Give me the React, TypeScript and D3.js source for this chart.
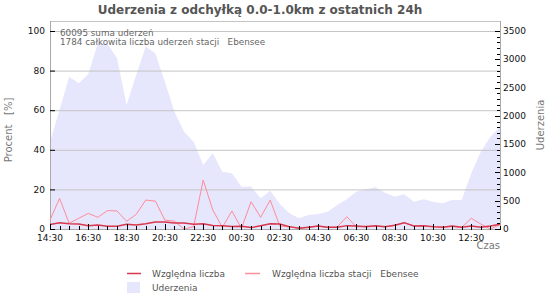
import React from "react";
import * as d3 from "d3";

const times = [
  "14:30","15:00","15:30","16:00","16:30","17:00","17:30","18:00","18:30","19:00","19:30","20:00",
  "20:30","21:00","21:30","22:00","22:30","23:00","23:30","00:00","00:30","01:00","01:30","02:00",
  "02:30","03:00","03:30","04:00","04:30","05:00","05:30","06:00","06:30","07:00","07:30","08:00",
  "08:30","09:00","09:30","10:00","10:30","11:00","11:30","12:00","12:30","13:00","13:30","14:00",
];
const tickLabels = ["14:30","16:30","18:30","20:30","22:30","00:30","02:30","04:30","06:30","08:30","10:30","12:30"];

const strikes = [
  1538, 2103, 2692, 2575, 2735, 3283, 3270, 3017, 2192, 2722, 3223, 3106,
  2604, 2074, 1720, 1543, 1131, 1338, 1013, 984, 748, 750, 542, 677,
  442, 277, 189, 247, 265, 306, 424, 525, 660, 701, 737, 642,
  571, 613, 483, 525, 483, 454, 512, 512, 984, 1366, 1631, 1808,
];
const relative = [
  2.3, 3.2, 2.6, 2.5, 1.7, 2.0, 1.4, 1.4, 2.4, 2.0, 2.6, 3.5,
  3.5, 3.0, 3.0, 2.4, 2.6, 1.8, 1.7, 1.3, 1.4, 0.7, 1.6, 2.6,
  2.5, 1.2, 0.4, 0.9, 1.5, 0.9, 0.9, 1.7, 1.5, 1.2, 1.7, 1.2,
  1.9, 3.2, 1.5, 1.7, 1.2, 0.9, 1.5, 0.9, 1.5, 0.9, 1.5, 2.4,
];
const relativeStation = [
  4.5, 15.5, 2.9, 5.4, 7.9, 5.9, 9.3, 9.1, 3.9, 7.4, 14.6, 14.1,
  4.5, 4.0, 0.0, 1.2, 24.7, 9.6, 0.8, 9.1, 0.3, 13.8, 5.9, 14.6,
  1.5, 1.0, 0.5, 0.8, 1.5, 0.8, 1.0, 6.2, 1.0, 1.5, 1.5, 1.0,
  1.8, 3.0, 1.5, 1.5, 1.0, 1.0, 1.2, 0.8, 5.4, 2.5, 0.0, 2.2,
];
const leftTicks = [0, 20, 40, 60, 80, 100];
const rightTicks = [0, 500, 1000, 1500, 2000, 2500, 3000, 3500];

export default function App() {
  const W = 550, H = 300;
  const L = 50, R = 500, T = 21, B = 229;
  const x = d3.scaleLinear().domain([0, times.length - 1]).range([L, R]);
  const yL = d3.scaleLinear().domain([0, 100]).range([B, 31]);
  const yR = d3.scaleLinear().domain([0, 3500]).range([B, 31]);

  const area = d3.area<number>().x((_, i) => x(i)).y0(B).y1((d) => yR(d))(strikes) || "";
  const lineRel = d3.line<number>().x((_, i) => x(i)).y((d) => yL(d))(relative) || "";
  const lineSt = d3.line<number>().x((_, i) => x(i)).y((d) => yL(d))(relativeStation) || "";

  const minorRight = d3.range(0, 3501, 100);
  const font = "DejaVu Sans, sans-serif";

  return (
    <svg width={W} height={H} style={{ position: "absolute", left: 0, top: 0, fontFamily: font }}>
      <rect x={0} y={0} width={W} height={H} fill="#fff" />
      <text x={260} y={14} textAnchor="middle" fontSize={12} fontWeight="bold" fill="#555">
        Uderzenia z odchyłką 0.0-1.0km z ostatnich 24h
      </text>
      <path d={area} fill="#e6e6fc" />
      {leftTicks.filter((t) => t > 0).map((t) => (
        <line key={"g" + t} x1={L} x2={R} y1={yL(t) + 0.5} y2={yL(t) + 0.5} stroke="#c4c4c4" strokeWidth={1} />
      ))}
      <line x1={L} x2={R} y1={T + 0.5} y2={T + 0.5} stroke="#c4c4c4" />
      <line x1={L + 0.5} x2={L + 0.5} y1={T} y2={B + 1} stroke="#aaa" />
      <line x1={R + 0.5} x2={R + 0.5} y1={T} y2={B + 1} stroke="#aaa" />
      <line x1={L} x2={R} y1={B + 0.5} y2={B + 0.5} stroke="#aaa" />
      <path d={lineSt} fill="none" stroke="#ff8c99" strokeWidth={1} />
      <path d={lineRel} fill="none" stroke="#d8374d" strokeWidth={1.5} />
      {leftTicks.map((t) => (
        <g key={"l" + t}>
          <line x1={L} x2={L + 5} y1={yL(t) + 0.5} y2={yL(t) + 0.5} stroke="#000" />
          <text x={45} y={yL(t)} dy="0.35em" textAnchor="end" fontSize={9} fill="#111">{t}</text>
        </g>
      ))}
      {minorRight.map((t) => (
        <line key={"m" + t} x1={t % 500 === 0 ? R - 5 : R - 3} x2={R} y1={Math.round(yR(t)) + 0.5} y2={Math.round(yR(t)) + 0.5} stroke="#000" />
      ))}
      {rightTicks.map((t) => (
        <text key={"r" + t} x={503} y={yR(t)} dy="0.35em" fontSize={9} fill="#111">{t}</text>
      ))}
      {times.map((t, i) => {
        const major = tickLabels.includes(t);
        return (
          <line key={"x" + i} x1={Math.round(x(i)) + 0.5} x2={Math.round(x(i)) + 0.5} y1={B - (major ? 5 : 3)} y2={B + 1} stroke="#000" />
        );
      })}
      {tickLabels.map((t) => (
        <text key={"xl" + t} x={x(times.indexOf(t))} y={241} textAnchor="middle" fontSize={9} fill="#111">{t}</text>
      ))}
      <text x={60} y={35.5} fontSize={8.8} fill="#666">60095 suma uderzeń</text>
      <text x={60} y={44.5} fontSize={8.8} fill="#666" style={{ whiteSpace: "pre" }}>1784 całkowita liczba uderzeń stacji   Ebensee</text>
      <text transform="translate(12,130) rotate(-90)" textAnchor="middle" fontSize={10} fill="#777" style={{ whiteSpace: "pre" }}>Procent   [%]</text>
      <text transform="translate(544,125) rotate(-90)" textAnchor="middle" fontSize={10} fill="#777">Uderzenia</text>
      <text x={500} y={249} textAnchor="end" fontSize={10} fill="#777">Czas</text>
      <line x1={127} x2={141} y1={273.5} y2={273.5} stroke="#d8374d" strokeWidth={1.5} />
      <text x={152} y={276.5} fontSize={9} fill="#555">Względna liczba</text>
      <line x1={245} x2={260} y1={273.5} y2={273.5} stroke="#ff8c99" strokeWidth={1.5} />
      <text x={272} y={276.5} fontSize={9} fill="#555" style={{ whiteSpace: "pre" }}>Względna liczba stacji   Ebensee</text>
      <rect x={127} y={282} width={13} height={11} fill="#e6e6fc" />
      <text x={152} y={291} fontSize={9} fill="#555">Uderzenia</text>
    </svg>
  );
}
